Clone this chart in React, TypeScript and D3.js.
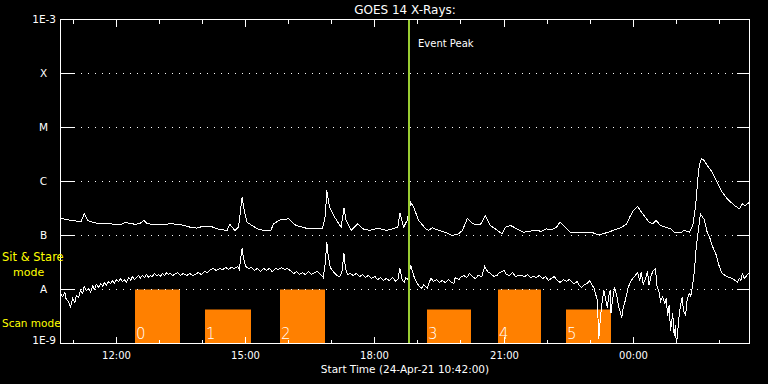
import React from "react";
import * as d3 from "d3";

// ---------- data ----------
const START = "2021-04-24T10:42:00";
const SPAN_HOURS = 16;
const TITLE = "GOES 14 X-Rays:";
const X_TITLE = "Start Time (24-Apr-21 10:42:00)";
const EVENT_TIME = "2021-04-24T18:48:00";
const EVENT_LABEL = "Event Peak";

const yDecades = [1e-9, 1e-8, 1e-7, 1e-6, 1e-5, 1e-4, 1e-3];
const yTickLabels = ["1E-9", "A", "B", "C", "M", "X", "1E-3"];

// scan-mode intervals
const scanLabels = ["0", "1", "2", "3", "4", "5"];
const scanStart = ["12:26", "14:04", "15:48", "19:13", "20:51", "22:27"];
const scanEnd = ["13:29", "15:08", "16:51", "20:14", "21:52", "23:29"];
const scanTop = [1e-8, 4.1e-9, 1e-8, 4.1e-9, 1e-8, 4.1e-9];

// [minutes since start, flux W/m^2]
const longChannel: [number, number][] = [
  [0,2.09e-7],[10,1.95e-7],[20,1.86e-7],[29,1.84e-7],[33,2.52e-7],[38,1.90e-7],[47,1.72e-7],[56,1.65e-7],[68,1.69e-7],[75,1.58e-7],
  [84,1.58e-7],[89,1.72e-7],[93,1.72e-7],[103,1.62e-7],[110,1.65e-7],[116,1.90e-7],[121,1.65e-7],[131,1.60e-7],[145,1.60e-7],[153,1.65e-7],
  [167,1.60e-7],[181,1.42e-7],[190,1.37e-7],[199,1.49e-7],[209,1.49e-7],[218,1.33e-7],[232,1.24e-7],[236,1.60e-7],[243,1.24e-7],[248,1.42e-7],
  [253,5.12e-7],[256,2.91e-7],[260,1.76e-7],[267,1.53e-7],[274,1.33e-7],[283,1.24e-7],[293,1.24e-7],[297,1.65e-7],[306,1.95e-7],[318,2.04e-7],
  [328,1.53e-7],[342,1.37e-7],[356,1.33e-7],[365,1.33e-7],[369,2.35e-7],[371,6.81e-7],[375,3.34e-7],[382,2.18e-7],[391,1.42e-7],[395,3.20e-7],
  [398,1.90e-7],[405,1.24e-7],[414,1.65e-7],[421,1.33e-7],[431,1.24e-7],[442,1.37e-7],[454,1.24e-7],[463,1.33e-7],[470,1.42e-7],[473,2.63e-7],
  [478,1.42e-7],[483,1.90e-7],[488,4.14e-7],[492,3.34e-7],[499,1.90e-7],[509,1.33e-7],[513,1.24e-7],[518,1.39e-7],[527,1.24e-7],[536,1.15e-7],
  [546,1.00e-7],[555,1.08e-7],[560,1.24e-7],[567,2.09e-7],[574,1.65e-7],[585,1.58e-7],[592,2.35e-7],[599,1.53e-7],[609,1.24e-7],[615,1.08e-7],
  [620,1.42e-7],[627,1.53e-7],[636,1.33e-7],[645,1.15e-7],[661,1.24e-7],[670,1.20e-7],[677,1.33e-7],[684,1.27e-7],[691,1.42e-7],[696,1.76e-7],
  [703,1.42e-7],[710,1.15e-7],[723,1.15e-7],[740,1.15e-7],[745,1.08e-7],[751,1.03e-7],[763,1.15e-7],[772,1.27e-7],[782,1.42e-7],[789,1.65e-7],
  [793,2.18e-7],[798,2.91e-7],[804,3.44e-7],[813,2.35e-7],[820,1.76e-7],[825,1.65e-7],[830,1.90e-7],[836,1.53e-7],[843,1.42e-7],[850,1.33e-7],
  [855,1.15e-7],[864,1.12e-7],[869,1.24e-7],[876,1.15e-7],[881,1.53e-7],[885,3.59e-7],[888,1.12e-6],[890,1.98e-6],[893,2.63e-6],[897,2.45e-6],
  [901,1.98e-6],[908,1.49e-6],[915,9.7e-7],[922,6.34e-7],[929,4.78e-7],[939,3.59e-7],[946,3.12e-7],[950,3.86e-7],[954,3.59e-7],[960,4.14e-7],
];

const shortChannel: [number, number][] = [
  [0,0.84e-8],[3,0.74e-8],[6,0.88e-8],[8,0.65e-8],[11,0.60e-8],[14,0.48e-8],[17,0.68e-8],[20,0.57e-8],[22,0.77e-8],[25,0.71e-8],
  [28,0.96e-8],[31,0.84e-8],[33,1.14e-8],[36,0.96e-8],[39,1.04e-8],[42,0.88e-8],[45,1.19e-8],[47,1.00e-8],[50,1.24e-8],[53,1.09e-8],
  [56,1.29e-8],[59,1.14e-8],[61,1.35e-8],[64,1.19e-8],[67,1.41e-8],[70,1.29e-8],[72,1.47e-8],[75,1.29e-8],[78,1.53e-8],[81,1.41e-8],
  [84,1.60e-8],[86,1.41e-8],[89,1.53e-8],[92,1.35e-8],[95,1.67e-8],[98,1.47e-8],[100,1.74e-8],[103,1.53e-8],[106,1.67e-8],[109,1.82e-8],
  [111,1.60e-8],[114,1.82e-8],[117,1.67e-8],[120,1.90e-8],[123,1.67e-8],[125,1.82e-8],[128,1.74e-8],[131,1.98e-8],[134,1.82e-8],[137,1.90e-8],
  [139,1.74e-8],[142,1.98e-8],[145,1.82e-8],[148,2.06e-8],[150,1.90e-8],[153,1.98e-8],[156,1.82e-8],[159,1.90e-8],[163,2.06e-8],[167,1.82e-8],
  [171,1.98e-8],[176,1.82e-8],[180,1.98e-8],[184,1.82e-8],[188,1.90e-8],[192,2.06e-8],[196,1.90e-8],[201,2.15e-8],[205,2.06e-8],[209,2.35e-8],
  [213,2.45e-8],[217,2.25e-8],[222,2.45e-8],[226,2.35e-8],[230,2.56e-8],[234,2.35e-8],[238,2.56e-8],[242,2.45e-8],[247,2.67e-8],[249,2.35e-8],
  [253,5.74e-8],[255,3.75e-8],[258,2.67e-8],[262,2.45e-8],[266,2.56e-8],[270,2.25e-8],[274,2.45e-8],[279,2.15e-8],[283,2.45e-8],[287,2.25e-8],
  [291,2.45e-8],[295,2.15e-8],[300,2.45e-8],[304,2.35e-8],[308,2.56e-8],[312,2.35e-8],[316,2.45e-8],[320,2.25e-8],[325,1.98e-8],[329,2.15e-8],
  [333,1.90e-8],[337,2.06e-8],[341,1.90e-8],[346,2.15e-8],[350,1.90e-8],[354,2.06e-8],[358,2.15e-8],[362,1.90e-8],[366,1.67e-8],[369,3.16e-8],
  [371,7.52e-8],[373,4.26e-8],[376,2.56e-8],[380,2.15e-8],[385,1.82e-8],[389,1.74e-8],[392,2.06e-8],[395,4.64e-8],[397,2.45e-8],[400,1.90e-8],
  [404,1.98e-8],[408,1.82e-8],[412,1.98e-8],[417,1.74e-8],[421,1.90e-8],[425,1.67e-8],[429,1.82e-8],[433,1.60e-8],[438,1.74e-8],[442,1.53e-8],
  [446,1.67e-8],[450,1.47e-8],[454,1.60e-8],[458,1.47e-8],[463,1.67e-8],[467,1.41e-8],[470,1.53e-8],[473,2.45e-8],[476,1.53e-8],[479,1.35e-8],
  [481,1.67e-8],[484,1.53e-8],[486,2.06e-8],[488,2.78e-8],[490,2.25e-8],[493,1.67e-8],[497,1.29e-8],[500,1.14e-8],[503,1.04e-8],[506,1.24e-8],
  [511,1.04e-8],[513,1.29e-8],[516,1.60e-8],[520,1.41e-8],[524,1.53e-8],[528,1.35e-8],[532,1.47e-8],[536,1.35e-8],[541,1.53e-8],[543,1.41e-8],
  [548,1.29e-8],[550,1.67e-8],[555,1.53e-8],[559,1.74e-8],[562,1.82e-8],[566,1.67e-8],[570,1.98e-8],[574,1.74e-8],[578,1.60e-8],[582,1.82e-8],
  [587,1.74e-8],[591,2.67e-8],[595,2.15e-8],[599,1.98e-8],[604,1.74e-8],[608,1.82e-8],[612,2.06e-8],[616,2.15e-8],[618,2.25e-8],[621,1.90e-8],
  [626,1.82e-8],[630,2.06e-8],[634,1.74e-8],[638,1.82e-8],[642,1.82e-8],[647,1.74e-8],[651,1.90e-8],[655,1.67e-8],[659,1.74e-8],[663,1.67e-8],
  [667,1.82e-8],[672,1.60e-8],[676,1.74e-8],[680,1.47e-8],[684,1.60e-8],[688,1.74e-8],[692,1.47e-8],[696,1.35e-8],[701,1.53e-8],[705,1.41e-8],
  [709,1.53e-8],[713,1.35e-8],[716,1.29e-8],[720,1.41e-8],[723,1.19e-8],[726,1.09e-8],[730,1.24e-8],[734,1.29e-8],[737,1.47e-8],[740,1.24e-8],
  [743,1.09e-8],[745,0.88e-8],[748,0.63e-8],[750,0.12e-8],[752,0.27e-8],[754,0.51e-8],[757,0.96e-8],[760,0.63e-8],[762,0.46e-8],[764,0.77e-8],
  [766,0.96e-8],[767,0.36e-8],[769,0.63e-8],[772,1.09e-8],[775,0.77e-8],[778,0.46e-8],[780,0.38e-8],[782,0.30e-8],[784,0.45e-8],[787,0.63e-8],
  [791,1.09e-8],[794,1.35e-8],[798,1.67e-8],[801,1.82e-8],[804,2.06e-8],[807,1.47e-8],[809,2.06e-8],[812,1.24e-8],[815,1.60e-8],[818,2.15e-8],
  [820,1.19e-8],[823,1.82e-8],[826,2.25e-8],[829,2.45e-8],[831,1.19e-8],[834,0.88e-8],[836,0.60e-8],[839,0.74e-8],[842,0.55e-8],[844,0.68e-8],
  [846,0.33e-8],[848,0.51e-8],[850,0.17e-8],[853,0.36e-8],[855,0.14e-8],[857,0.22e-8],[858,0.09e-8],[860,0.17e-8],[862,0.33e-8],[864,0.51e-8],
  [866,0.71e-8],[868,0.41e-8],[871,0.33e-8],[873,0.63e-8],[876,0.84e-8],[878,0.74e-8],[880,1.04e-8],[883,2.06e-8],[886,6.53e-8],[889,13.5e-8],
  [891,21.5e-8],[892,24.5e-8],[894,22.5e-8],[897,19.8e-8],[899,15.3e-8],[901,11.5e-8],[905,8.80e-8],[908,6.53e-8],[911,5.27e-8],[914,4.26e-8],
  [917,2.91e-8],[919,2.45e-8],[922,1.98e-8],[926,1.82e-8],[931,1.69e-8],[936,1.60e-8],[940,1.47e-8],[943,1.35e-8],[946,1.60e-8],[948,1.47e-8],
  [950,1.98e-8],[953,1.60e-8],[955,1.74e-8],[960,2.06e-8],
];

// ---------- chart ----------
const FONT = "DejaVu Sans, sans-serif";
const ORANGE = "#ff8000";
const YELLOW = "#ffff00";
const GREEN = "#9acd32";

export default function App() {
  const W = 768, H = 384;
  const left = 60.5, right = 749.5, top = 19.5, bottom = 343.5;
  const t0 = new Date(START);
  const toDate = (m: number) => new Date(t0.getTime() + m * 60000);
  const dayDate = (hm: string) => new Date(`2021-04-24T${hm}:00`);

  const x = d3.scaleTime().domain([t0, toDate(SPAN_HOURS * 60)]).range([left, right]);
  const y = d3.scaleLog().domain([1e-9, 1e-3]).range([bottom, top]);

  const line = d3
    .line<[number, number]>()
    .x((d) => x(toDate(d[0])))
    .y((d) => y(d[1]));

  const hourTicks = x.ticks(d3.timeHour.every(1)!);
  const fmt = d3.timeFormat("%H:%M");
  const eventX = Math.round(x(new Date(EVENT_TIME)));
  const gridTick = 13;

  return (
    <div style={{ position: "absolute", left: 0, top: 0, width: W, height: H, background: "#000" }}>
      <svg width={W} height={H} style={{ display: "block", background: "#000" }} fontFamily={FONT}>
        <defs>
          <clipPath id="plotclip">
            <rect x={left} y={top} width={right - left} height={bottom - top} />
          </clipPath>
        </defs>

        {/* scan mode bars */}
        {scanStart.map((s, i) => {
          const x0 = Math.round(x(dayDate(s)));
          const x1 = Math.round(x(dayDate(scanEnd[i])));
          const yt = Math.round(y(scanTop[i])) - 0.5;
          return (
            <g key={i}>
              <rect x={x0} y={yt} width={x1 - x0} height={bottom - yt} fill={ORANGE} />
              <text x={x0 + 1} y={339} fill="#fff" fontSize={15} fontWeight={300}>
                {scanLabels[i]}
              </text>
            </g>
          );
        })}

        {/* grid lines (dotted) and decade ticks */}
        {yDecades.map((v, i) => {
          const yy = Math.round(y(v) - 0.5) + 0.5;
          return (
            <g key={i} shapeRendering="crispEdges">
              {i > 0 && i < yDecades.length - 1 && (
                <>
                  <line x1={left + gridTick} x2={right - gridTick} y1={yy} y2={yy} stroke="#fff" strokeDasharray="1 6" />
                  <line x1={left} x2={left + gridTick} y1={yy} y2={yy} stroke="#fff" />
                  <line x1={right - gridTick} x2={right} y1={yy} y2={yy} stroke="#fff" />
                </>
              )}
            </g>
          );
        })}

        {/* curves */}
        <g clipPath="url(#plotclip)" fill="none" stroke="#fff" strokeWidth={1} shapeRendering="crispEdges">
          <path d={line(longChannel) || ""} />
          <path d={line(shortChannel) || ""} />
        </g>

        {/* event peak */}
        <line x1={eventX} x2={eventX} y1={top} y2={bottom} stroke={GREEN} strokeWidth={2} />
        <text x={eventX + 9} y={47} fill="#fff" fontSize={10}>
          {EVENT_LABEL}
        </text>

        {/* frame */}
        <rect x={left} y={top} width={right - left} height={bottom - top} fill="none" stroke="#fff" shapeRendering="crispEdges" />

        {/* time ticks */}
        {hourTicks.map((t, i) => {
          const xx = Math.round(x(t) - 0.5) + 0.5;
          const major = t.getHours() % 3 === 0;
          const len = major ? 7 : 4;
          return (
            <g key={i}>
              <line x1={xx} x2={xx} y1={bottom} y2={bottom - len} stroke="#fff" shapeRendering="crispEdges" />
              <line x1={xx} x2={xx} y1={top} y2={top + len} stroke="#fff" shapeRendering="crispEdges" />
              {major && (
                <text x={xx} y={359} fill="#fff" fontSize={10} textAnchor="middle">
                  {fmt(t)}
                </text>
              )}
            </g>
          );
        })}

        {/* y labels */}
        {yDecades.map((v, i) => {
          const yy = y(v);
          const isNum = yTickLabels[i].length > 1;
          return (
            <text
              key={i}
              x={isNum ? 56 : 43.5}
              y={i === 0 ? yy - 3 : yy}
              dy="0.35em"
              fill="#fff"
              fontSize={10.5}
              textAnchor={isNum ? "end" : "middle"}
            >
              {yTickLabels[i]}
            </text>
          );
        })}

        {/* titles */}
        <text x={(left + right) / 2} y={14} fill="#fff" fontSize={12} textAnchor="middle">
          {TITLE}
        </text>
        <text x={(left + right) / 2} y={373} fill="#fff" fontSize={10.5} textAnchor="middle">
          {X_TITLE}
        </text>

        {/* mode labels */}
        <text x={2} y={261} fill={YELLOW} fontSize={11.5}>Sit &amp; Stare</text>
        <text x={13} y={276} fill={YELLOW} fontSize={11}>mode</text>
        <text x={2} y={327} fill={YELLOW} fontSize={10.5}>Scan mode</text>
      </svg>
    </div>
  );
}
